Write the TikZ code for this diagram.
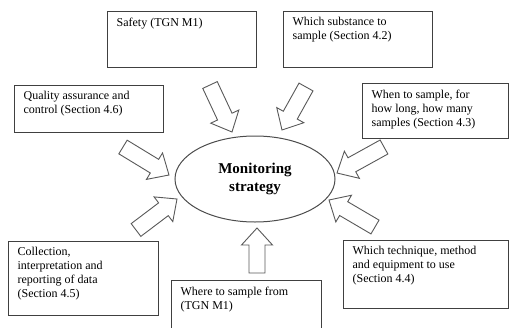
\documentclass[tikz,border=0pt]{standalone}
\usepackage{fontspec}
\setmainfont{Liberation Serif}
\usetikzlibrary{calc,shapes.geometric}
\newcommand{\arsw}{8pt}
\newcommand{\arhw}{15.5pt}
\newcommand{\arhl}{17pt}
\newcommand{\blockarr}[2]{%
  \coordinate (neck) at ($(#2)!\arhl!(#1)$);
  \draw[blk] ($(#1)!\arsw!90:(#2)$) -- ($(neck)!\arsw!-90:(#1)$) -- ($(neck)!\arhw!-90:(#1)$) -- (#2)
    -- ($(neck)!\arhw!90:(#1)$) -- ($(neck)!\arsw!90:(#1)$) -- ($(#1)!\arsw!-90:(#2)$) -- cycle;}
\begin{document}
\begin{tikzpicture}[x=1pt,y=-1pt,
  box/.style={draw=black!75, line width=1.2pt, rectangle, anchor=north west, inner xsep=9pt, inner ysep=6pt, font=\fontsize{12}{14}\selectfont},
  blk/.style={draw=black!65, line width=0.9pt, line join=miter, fill=white},
  oval/.style={draw=black!70, line width=1pt, ellipse, minimum width=160pt, minimum height=86pt, font=\fontsize{15}{18}\selectfont\bfseries, align=center}]
\useasboundingbox (0,0) rectangle (509,327);
\newcommand{\bx}[3]{\parbox[t][#2][t]{#1}{\raggedright #3}}
\node[box] (safety) at (107,11) {\bx{131pt}{44pt}{Safety (TGN M1)}};
\node[box] (subst) at (283,11) {\bx{131pt}{44pt}{Which substance to\\sample (Section 4.2)}};
\node[box] (qa) at (14,85) {\bx{131pt}{35pt}{Quality assurance and\\control (Section 4.6)}};
\node[box] (when) at (362,83) {\bx{128pt}{43pt}{When to sample, for\\how long, how many\\samples (Section 4.3)}};
\node[box] (coll) at (8,241) {\bx{132pt}{62pt}{Collection,\\interpretation and\\reporting of data\\(Section 4.5)}};
\node[box] (where) at (171,280) {\bx{132pt}{50pt}{Where to sample from\\(TGN M1)}};
\node[box] (tech) at (343,240) {\bx{147pt}{56pt}{Which technique, method\\and equipment to use\\(Section 4.4)}};
\node[oval] (ms) at (255,179) {Monitoring\\strategy};
% block arrows: tail -> tip
\coordinate (t1) at (210,85);  \coordinate (h1) at (232,132);
\coordinate (t2) at (306,87);  \coordinate (h2) at (282,130);
\coordinate (t3) at (123,147); \coordinate (h3) at (169,175);
\coordinate (t4) at (136,230); \coordinate (h4) at (177,199);
\coordinate (t5) at (384,147); \coordinate (h5) at (337,173);
\coordinate (t6) at (375,227); \coordinate (h6) at (329,200);
\coordinate (t7) at (257,273); \coordinate (h7) at (257,228);
\blockarr{t1}{h1}
\blockarr{t2}{h2}
\blockarr{t3}{h3}
\blockarr{t4}{h4}
\blockarr{t5}{h5}
\blockarr{t6}{h6}
\blockarr{t7}{h7}
\end{tikzpicture}
\end{document}
